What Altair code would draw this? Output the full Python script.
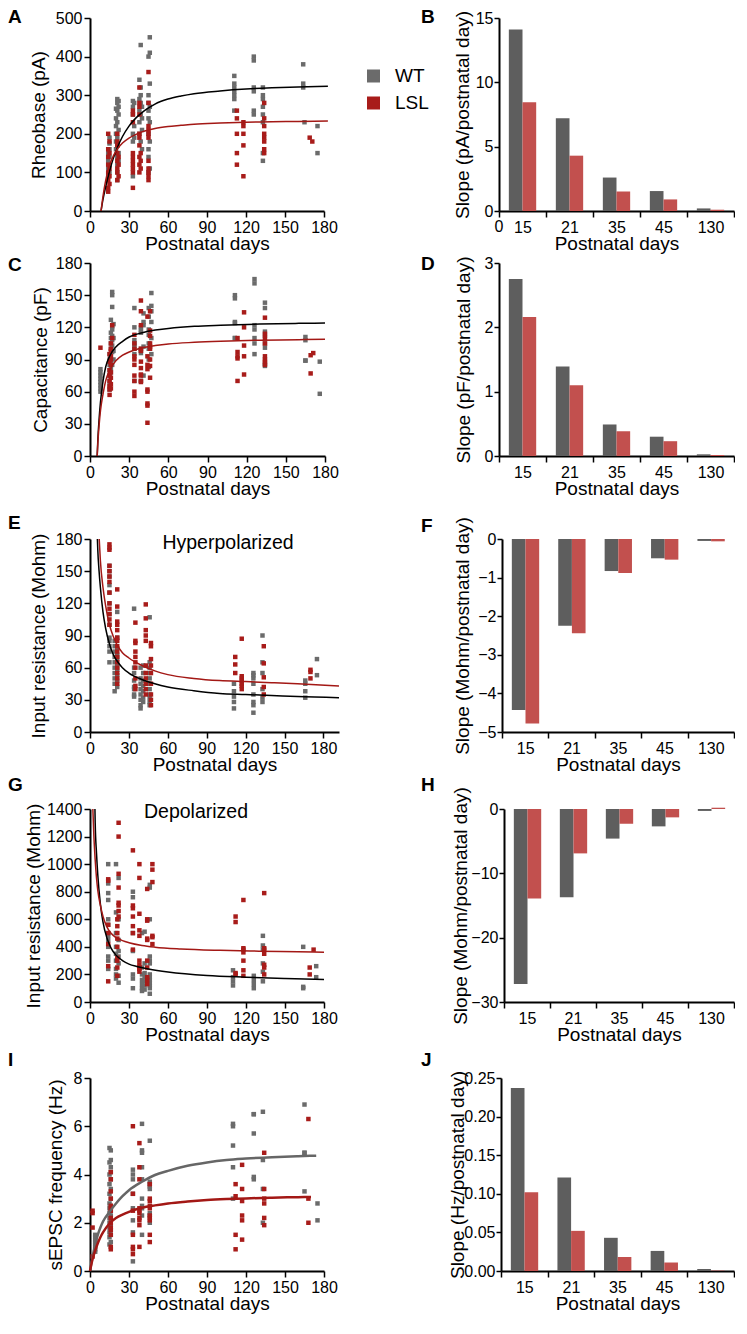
import altair as alt
import pandas as pd

FONT = "Liberation Sans"
GROUPS = ["WT", "LSL"]
SLOPE_DAYS = ["15", "21", "35", "45", "130"]
X_TICKS = [0, 30, 60, 90, 120, 150, 180]

SC_GRAY = "#6b6b6b"
SC_RED = "#a81c1a"
BAR_GRAY = "#5e5e5e"
BAR_RED = "#c2504e"
LINE_RED = "#a31815"

# ---------------- scatter data: (postnatal day, [values]) ----------------
A_WT = [(14, [90, 110, 130, 150]), (15, [100, 120, 140, 160, 175, 190]),
        (20, [160, 180, 200, 220, 240, 265]), (21, [80, 100, 120, 140, 170, 190, 230, 260, 280, 290]),
        (22, [130, 150, 210, 250, 270, 285]), (33, [90, 180, 200, 250, 270, 285]), (34, [190, 220, 280]),
        (38, [200, 230, 260, 290, 340]), (39, [180, 250, 280, 300, 320, 430]), (40, [160, 210, 240, 270]),
        (45, [100, 140, 160, 200, 240, 260, 280, 300, 400]), (46, [110, 180, 230, 270, 330, 410, 450]),
        (111, [260, 290, 300, 310, 320, 330, 350]), (126, [250, 260, 310, 320, 390, 400]),
        (133, [130, 150, 230, 250, 270, 290, 300, 320]), (164, [320, 330, 380]), (165, [230]),
        (175, [150, 220])]
A_LSL = [(14, [50, 60, 80, 100, 120, 140, 160, 200]), (15, [70, 90, 110, 150, 180]),
         (21, [80, 100, 110, 130, 150, 170, 180, 200]), (22, [90, 120, 140]),
         (33, [60, 100, 110, 120, 130, 140, 150, 230, 250, 260]),
         (38, [100, 120, 140, 170, 190, 200, 250, 270, 280, 320]), (39, [110, 130, 150]),
         (45, [80, 90, 100, 110, 130, 190, 200, 210, 220, 280, 360]), (113, [120, 150, 200, 240, 260]),
         (118, [90, 170, 200, 220, 230]), (134, [150, 160, 180, 190, 200, 220, 240, 280]),
         (169, [190]), (171, [180])]

C_WT = [(8, [60, 63, 66, 69, 72, 75, 78, 81]), (15, [62, 66, 70, 75, 80, 85, 90, 95]),
        (16, [78, 82, 88, 93, 100, 105, 110, 115, 127]), (17, [85, 97, 103, 108, 112, 118, 121, 139, 150, 153]),
        (18, [90, 98, 110, 123]), (34, [70, 95, 100, 103, 105, 108, 120, 138]),
        (39, [70, 96, 98, 100, 115, 117, 120]), (41, [75, 102, 122, 125, 133]),
        (45, [83, 90, 100, 105, 113, 118, 130, 138]), (47, [95, 110, 125, 135, 140, 152]),
        (111, [110, 110, 124, 125, 147, 150]), (126, [95, 105, 110, 118, 122, 161, 165]),
        (134, [84, 86, 101, 105, 112, 116, 138, 143]), (165, [89, 89, 108, 111]), (176, [58, 88])]
C_LSL = [(8, [101]), (15, [57, 62, 65, 70, 75, 80, 88, 95]), (16, [63, 67, 73, 78, 85, 90, 93, 98, 100, 105]),
         (17, [110, 122]), (34, [56, 60, 70, 75, 85, 90, 93, 100, 105, 113]),
         (39, [69, 70, 75, 76, 82, 88, 98, 100, 122, 135, 145]), (44, [31, 47, 49, 60, 62, 81, 85, 93, 130]),
         (46, [73, 84, 90, 100, 102, 105, 112, 117, 135]), (113, [70, 91, 93, 97, 110]),
         (118, [76, 93, 103, 120, 134]), (134, [85, 88, 90, 93, 105, 110, 114, 129]),
         (169, [77, 94]), (171, [96])]

E_WT = [(15, [65, 75, 80, 85, 88, 100, 110, 120, 130, 137, 145, 150, 155]),
        (19, [38, 45, 50, 55, 60, 65, 70, 75, 80, 85]), (21, [42, 48, 53, 58, 62, 68, 72, 78, 88, 112]),
        (34, [33, 35, 40, 42, 48, 55, 60, 115]), (39, [22, 25, 30, 35, 40, 45, 50, 60]),
        (41, [28, 32, 38, 43, 48, 55, 62]), (46, [25, 28, 32, 35, 40, 45, 50, 55, 60, 65, 107]),
        (111, [22, 28, 33, 38, 45]), (126, [18, 25, 28, 35, 45, 50, 53, 55]),
        (133, [28, 32, 40, 55, 65, 90]), (166, [32, 38, 45, 48]), (175, [53, 68])]
E_LSL = [(15, [100, 105, 110, 115, 120, 130, 140, 145, 150, 155, 170, 172, 175]),
         (21, [45, 50, 55, 60, 65, 70, 75, 80, 85, 88, 95, 100, 103, 117, 133]),
         (35, [40, 43, 50, 60, 65, 70, 75, 83, 85, 102]),
         (43, [35, 40, 45, 50, 55, 62, 85, 90, 95, 106, 119]), (47, [25, 30, 35, 45, 55, 62, 68, 80, 83]),
         (112, [55, 63, 70]), (117, [40, 43, 45, 48, 50, 52, 87]), (134, [35, 42, 51, 64, 80]),
         (170, [50, 56, 58])]

G_WT = [(14, [240, 300, 330, 400, 450, 480, 500, 560, 600, 740, 790, 860, 1000]),
        (20, [170, 200, 240, 300, 350, 400, 500, 650, 1000]), (22, [140, 190, 280, 330, 370, 450, 600, 900]),
        (33, [100, 170, 200, 370, 500, 760, 800]), (40, [80, 100, 130, 160, 200, 250, 500]),
        (42, [90, 120, 150, 180, 210, 280, 510]),
        (46, [60, 100, 120, 140, 160, 180, 200, 280, 300, 330, 600, 830, 850]),
        (110, [120, 150, 180, 230]), (126, [100, 130, 160, 190]), (133, [150, 220, 280, 380, 410, 480]),
        (164, [100, 110, 400]), (174, [180, 260])]
G_LSL = [(14, [150, 260, 420, 500, 560, 880, 890]), (21, [190, 250, 300, 320, 400, 460, 500, 550, 600]),
         (22, [620, 660, 700, 720, 830, 930, 1200, 1300]), (33, [380, 500, 550, 620, 680, 700, 1100]),
         (38, [220, 240, 250, 270, 300, 480, 520, 640, 900, 1000]),
         (44, [130, 160, 180, 250, 300, 450, 460, 590, 600, 820]), (48, [420, 470, 480, 870, 960, 1000]),
         (112, [200, 210, 580, 620]), (118, [190, 230, 300, 360, 380, 390, 740]),
         (134, [200, 250, 270, 350, 380, 390, 790]), (169, [200, 250]), (172, [380])]

I_WT = [(4, [0.8, 0.9, 1.0, 1.1, 1.2, 1.3, 1.4, 1.5]),
        (15, [1.1, 1.4, 1.6, 1.8, 2.0, 2.2, 2.4, 2.6, 2.8, 3.2, 3.6, 4.0, 4.5, 5.1]),
        (16, [1.2, 1.5, 1.7, 1.9, 2.1, 2.3, 2.5, 2.7, 3.0, 3.4, 3.8, 4.1, 4.3, 4.6, 5.0]),
        (33, [0.4, 1.6, 2.1, 2.6, 3.2, 3.8, 4.0, 4.2]), (40, [1.5, 2.3, 2.6, 2.7, 3.0, 3.8, 4.3, 4.9, 5.0, 6.1]),
        (46, [2.0, 2.3, 2.4, 3.4, 3.5, 3.6, 3.7, 5.4]), (110, [3.0, 4.3, 5.2, 6.0, 6.1]),
        (126, [3.8, 3.9, 5.7, 6.5, 6.5]), (133, [2.0, 3.4, 4.6, 6.6]), (165, [3.3, 4.9, 4.9, 6.9]),
        (175, [2.1, 2.8])]
I_LSL = [(2, [0.6, 1.8, 2.4, 2.5]), (16, [0.9, 1.0, 1.5, 1.7, 1.8, 2.0, 2.2, 2.5, 2.6, 2.7, 3.0, 3.3, 3.8, 4.1]),
         (33, [0.7, 0.9, 1.0, 1.5, 2.5, 3.2, 6.0]), (38, [1.0, 1.9, 2.1, 2.2, 2.4, 2.5, 2.6, 3.8, 4.3, 5.3]),
         (46, [1.2, 1.5, 2.1, 2.2, 2.3, 2.6, 2.7, 2.9, 3.0, 3.6]), (112, [0.9, 1.5, 3.1, 3.6]),
         (117, [1.3, 2.1, 2.3, 2.9, 3.4, 4.4]), (134, [1.9, 2.2, 2.8, 3.0, 3.4, 4.9]), (168, [2.0, 3.0, 6.3])]

# ---------------- fitted curves: (day, value) ----------------
A_WT_FIT = [(8.5, 0), (10, 30), (12, 62), (15, 103), (18, 137), (21, 164), (25, 193), (30, 220), (35, 240),
            (40, 255), (45, 267), (50, 277), (60, 290), (70, 298), (80, 304), (100, 311), (120, 316),
            (140, 319), (160, 321), (183, 323)]
A_LSL_FIT = [(8.5, 0), (10, 38), (12, 78), (15, 118), (18, 143), (21, 160), (25, 176), (30, 189), (35, 198),
             (40, 205), (45, 210), (50, 214), (60, 219), (70, 222), (80, 225), (100, 228), (120, 230),
             (140, 231), (160, 232), (183, 233)]
C_WT_FIT = [(5.5, 0), (6, 15), (7, 35), (8, 50), (10, 70), (12, 83), (15, 93), (20, 102), (25, 107),
            (30, 111), (40, 115), (50, 117.5), (60, 119), (80, 121), (100, 122), (130, 123), (160, 123.7),
            (180, 124)]
C_LSL_FIT = [(5.5, 0), (6, 12), (7, 29), (8, 42), (10, 58), (12, 70), (15, 80), (20, 89), (25, 94), (30, 97),
             (40, 101), (50, 103), (60, 104.5), (80, 106), (100, 107), (130, 108), (160, 108.5), (180, 109)]
E_WT_FIT = [(5.7, 180), (6, 170), (7, 150), (8, 135), (10, 112), (12, 97), (15, 82), (18, 72), (21, 66),
            (25, 60), (30, 55), (40, 49), (50, 45), (60, 42), (80, 38.5), (100, 36), (120, 35), (140, 34),
            (160, 33), (192, 32)]
E_LSL_FIT = [(7.1, 180), (8, 160), (10, 135), (12, 118), (15, 100), (18, 89), (21, 81), (25, 74),
             (30, 69), (40, 62), (50, 57), (60, 53.5), (80, 50), (100, 48), (120, 47), (140, 46), (160, 45),
             (192, 43)]
G_WT_FIT = [(3.8, 1400), (4, 1300), (5, 1080), (6, 920), (8, 710), (10, 580), (13, 465), (16, 395), (20, 340),
            (25, 300), (30, 275), (36, 258), (45, 240), (60, 218), (90, 192), (120, 180), (150, 171),
            (182, 163)]
G_LSL_FIT = [(2.2, 1400), (3, 1200), (4, 1030), (5, 900), (6, 810), (8, 700), (10, 620), (13, 545), (16, 500),
             (20, 468), (25, 445), (30, 430), (40, 410), (50, 398), (70, 385), (100, 375), (130, 369),
             (160, 364), (182, 360)]
I_WT_FIT = [(0, 0), (2, 0.6), (4, 1.1), (6, 1.5), (8, 1.8), (10, 2.05), (15, 2.45), (20, 2.8), (25, 3.1),
            (30, 3.35), (40, 3.7), (50, 3.98), (60, 4.15), (75, 4.36), (90, 4.5), (105, 4.6), (120, 4.66),
            (140, 4.72), (160, 4.76), (174, 4.78)]
I_LSL_FIT = [(0, 0), (2, 0.5), (4, 0.85), (6, 1.15), (8, 1.4), (10, 1.6), (15, 1.97), (20, 2.2), (25, 2.34),
             (30, 2.45), (40, 2.62), (50, 2.72), (60, 2.8), (75, 2.88), (90, 2.94), (105, 2.98), (120, 3.01),
             (140, 3.04), (160, 3.06), (170, 3.07)]

# ---------------- slopes (bar charts) ----------------
B_WT = [14.1, 7.2, 2.6, 1.55, 0.2]
B_LSL = [8.45, 4.3, 1.52, 0.9, 0.1]
D_WT = [2.75, 1.39, 0.49, 0.30, 0.026]
D_LSL = [2.16, 1.10, 0.385, 0.23, 0.016]
F_WT = [-4.43, -2.25, -0.83, -0.50, -0.05]
F_LSL = [-4.78, -2.44, -0.88, -0.535, -0.06]
H_WT = [-27.2, -13.7, -4.6, -2.7, -0.3]
H_LSL = [-13.9, -6.9, -2.3, -1.3, 0.2]
J_WT = [0.237, 0.121, 0.043, 0.026, 0.0026]
J_LSL = [0.102, 0.052, 0.018, 0.011, 0.0005]

H_PLOT = 193
R_ANCHOR = 252   # right extent of every left panel (px from its plot's left edge)

# row boundaries (page px) and plot tops: each row's extent is fixed by invisible anchors
ROW_EDGES = [8, 255, 506, 776, 1047, 1315]
P_TOP = [18, 263, 539, 809, 1078]


def box(i):
    return (ROW_EDGES[i] - P_TOP[i], ROW_EDGES[i + 1] - P_TOP[i])


def cols_df(cols):
    return pd.DataFrame([{"day": d, "value": v} for d, vals in cols for v in vals])


def pts_df(pts):
    return pd.DataFrame([{"day": d, "value": v} for d, v in pts])


def text_layer(text, dx, dy, size=19, weight="normal", align="left", baseline="alphabetic"):
    return alt.Chart(pd.DataFrame({"t": [text]})).mark_text(
        font=FONT, fontSize=size, fontWeight=weight, align=align, baseline=baseline, color="black"
    ).encode(text="t:N", x=alt.value(dx), y=alt.value(dy))


def letter_layer(letter, dx, dy):
    return text_layer(letter, dx, dy, size=19, weight="bold")


def anchor(x, b):
    # invisible guide that fixes the layout extent of a panel
    return alt.Chart(pd.DataFrame({"a": [0]})).mark_rule(opacity=0, strokeOpacity=0).encode(
        x=alt.value(x), y=alt.value(b[0]), y2=alt.value(b[1]))


def left_panel(wt, lsl, wt_fit, lsl_fit, ydom, yticks, ytitle, title_x, letter, ldx, ldy, row,
               width=234, xmax=180, wt_line="black", lw=1.5, clip=False, extras=()):
    x = alt.X("day:Q", scale=alt.Scale(domain=[0, xmax], nice=False, zero=False),
              axis=alt.Axis(values=X_TICKS, title="Postnatal days", titleY=23, tickSize=6,
                            labelPadding=2, labelFlush=False, labelOverlap=False))
    y = alt.Y("value:Q", scale=alt.Scale(domain=ydom, nice=False),
              axis=alt.Axis(values=yticks, title=ytitle, titleX=title_x, tickSize=6, format="d",
                            labelPadding=2, labelFlush=False, labelOverlap=False))
    wt_pts = alt.Chart(cols_df(wt)).mark_square(size=20, color=SC_GRAY, opacity=1).encode(x=x, y=y)
    lsl_pts = alt.Chart(cols_df(lsl)).mark_square(size=20, color=SC_RED, opacity=1).encode(x=x, y=y)
    wt_c = alt.Chart(pts_df(wt_fit)).mark_line(color=wt_line, strokeWidth=lw, interpolate="monotone",
                                               clip=clip).encode(x=x, y=y)
    lsl_c = alt.Chart(pts_df(lsl_fit)).mark_line(color=LINE_RED, strokeWidth=lw, interpolate="monotone",
                                                 clip=clip).encode(x=x, y=y)
    layers = [wt_pts, lsl_pts, wt_c, lsl_c, letter_layer(letter, ldx, ldy),
              anchor(R_ANCHOR, box(row))] + list(extras)
    return alt.layer(*layers).properties(width=width, height=H_PLOT)


def right_panel(wt_vals, lsl_vals, ydom, yticks, ytitle, title_x, letter, ldx, ldy, width, row,
                fmt=None, extras=()):
    df = pd.DataFrame({"day": SLOPE_DAYS * 2,
                       "group": [GROUPS[0]] * len(SLOPE_DAYS) + [GROUPS[1]] * len(SLOPE_DAYS),
                       "slope": list(wt_vals) + list(lsl_vals)})
    yax = dict(values=yticks, title=ytitle, titleX=title_x, tickSize=5, labelPadding=1,
               labelFlush=False, labelOverlap=False)
    if fmt:
        yax["format"] = fmt
    bars = alt.Chart(df).mark_bar().encode(
        x=alt.X("day:N", sort=SLOPE_DAYS, scale=alt.Scale(paddingInner=0, paddingOuter=0),
                axis=alt.Axis(title="Postnatal days", titleY=23, labelAngle=0, tickBand="extent",
                              tickSize=6, labelPadding=2)),
        xOffset=alt.XOffset("group:N", sort=GROUPS, scale=alt.Scale(paddingInner=0, paddingOuter=0.72)),
        y=alt.Y("slope:Q", scale=alt.Scale(domain=ydom, nice=False), axis=alt.Axis(**yax)),
        color=alt.Color("group:N", sort=GROUPS, scale=alt.Scale(domain=GROUPS, range=[BAR_GRAY, BAR_RED]),
                        legend=None),
    )
    layers = [bars, letter_layer(letter, ldx, ldy), anchor(width / 2, box(row))] + list(extras)
    return alt.layer(*layers).properties(width=width, height=H_PLOT)


# legend (drawn to the left of panel B)
legend_df = pd.DataFrame({"g": GROUPS})
leg_layers = []
for i, (col, ypos) in enumerate([(SC_GRAY, 58), (SC_RED, 85)]):
    one = legend_df.iloc[[i]]
    leg_layers.append(alt.Chart(one).mark_square(size=169, color=col, opacity=1).encode(
        x=alt.value(-125.5), y=alt.value(ypos)))
    leg_layers.append(alt.Chart(one).mark_text(font=FONT, fontSize=19, align="left", baseline="middle",
                                               color="black").encode(text="g:N", x=alt.value(-104),
                                                                     y=alt.value(ypos)))

pA = left_panel(A_WT, A_LSL, A_WT_FIT, A_LSL_FIT, [0, 500], [0, 100, 200, 300, 400, 500],
                "Rheobase (pA)", -42, "A", -82, 5, 0)
pB = right_panel(B_WT, B_LSL, [0, 15], [0, 5, 10, 15], "Slope (pA/postnatal day)", -27, "B", -78, 5, 235, 0,
                 extras=leg_layers + [text_layer("0", 0, H_PLOT + 8, size=16, align="center", baseline="top")])

pC = left_panel(C_WT, C_LSL, C_WT_FIT, C_LSL_FIT, [0, 180], [0, 30, 60, 90, 120, 150, 180],
                "Capacitance (pF)", -40, "C", -82, 8, 1, width=235, clip=True)
pD = right_panel(D_WT, D_LSL, [0, 3], [0, 1, 2, 3], "Slope (pF/postnatal day)", -26, "D", -78, 7, 235, 1)

pE = left_panel(E_WT, E_LSL, E_WT_FIT, E_LSL_FIT, [0, 180], [0, 30, 60, 90, 120, 150, 180],
                "Input resistance (Mohm)", -42, "E", -82, -10, 2, width=249, xmax=192, clip=True,
                extras=[text_layer("Hyperpolarized", 138, 10, size=19.5, align="center")])
pF = right_panel(F_WT, F_LSL, [-5, 0], [0, -1, -2, -3, -4, -5], "Slope (Mohm/postnatal day)", -30, "F",
                 -81, -7, 232, 2)

pG = left_panel(G_WT, G_LSL, G_WT_FIT, G_LSL_FIT, [0, 1400], list(range(0, 1401, 200)),
                "Input resistance (Mohm)", -47, "G", -82, -18, 3, clip=True,
                extras=[text_layer("Depolarized", 106, 9, size=19.5, align="center")])
pH = right_panel(H_WT, H_LSL, [-30, 0], [0, -10, -20, -30], "Slope (Mohm/postnatal day)", -34, "H",
                 -83, -18, 230, 3)

pI = left_panel(I_WT, I_LSL, I_WT_FIT, I_LSL_FIT, [0, 8], [0, 2, 4, 6, 8], "sEPSC frequency (Hz)", -25, "I",
                -82, -12, 4, wt_line="#666666", lw=2.5)
pJ = right_panel(J_WT, J_LSL, [0, 0.25], [0, 0.05, 0.1, 0.15, 0.2, 0.25], "Slope (Hz/postnatal day)", -34,
                 "J", -80, -12, 233, 4, fmt=".2f")

rowA = alt.hconcat(pA, pB, spacing=25)
rowC = alt.hconcat(pC, pD, spacing=79)
rowE = alt.hconcat(pE, pF, spacing=79)
rowG = alt.hconcat(pG, pH, spacing=79)
rowI = alt.hconcat(pI, pJ, spacing=79)

chart = alt.vconcat(rowA, rowC, rowE, rowG, rowI, spacing=0).properties(padding=0).configure_view(
    stroke=None
).configure_axis(
    domainColor="black", domainWidth=2, tickColor="black", tickWidth=1.5,
    labelFont=FONT, labelFontSize=16, labelColor="black",
    titleFont=FONT, titleFontSize=19, titleFontWeight="normal", titleColor="black", grid=False,
)

chart.save("out.html", embed_options={"renderer": "svg", "actions": False})
